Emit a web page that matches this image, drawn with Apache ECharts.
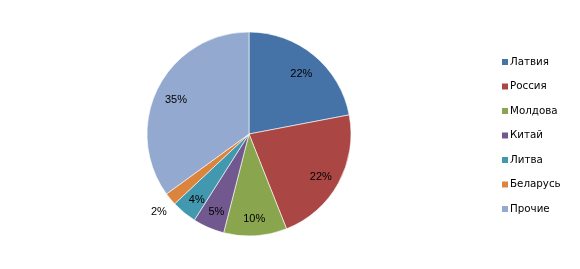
<!DOCTYPE html>
<html>
<head>
<meta charset="utf-8">
<script src="https://cdn.jsdelivr.net/npm/echarts@6/dist/echarts.min.js"></script>
<style>html,body{margin:0;padding:0;background:#fff}#c{width:580px;height:269px}</style>
</head>
<body>
<div id="c"></div>
<script>
const categories = ['Латвия', 'Россия', 'Молдова', 'Китай', 'Литва', 'Беларусь', 'Прочие'];
const values = [22, 22, 10, 5, 4, 2, 35];
const colors = ['#4572A7', '#AA4643', '#89A54E', '#71588F', '#4198AF', '#DB843D', '#93A9CF'];
const outsideLabels = ['Беларусь'];

const chart = echarts.init(document.getElementById('c'), null, {renderer: 'canvas'});
const font = 'DejaVu Sans';
const center = [249, 134];
const R = 102;

const baseData = categories.map((c, i) => ({name: c, value: values[i], itemStyle: {color: colors[i]}}));

const insideLabelData = categories.map((c, i) => ({
  name: c, value: values[i],
  label: {show: outsideLabels.indexOf(c) < 0}
}));
const outsideLabelData = categories.map((c, i) => ({
  name: c, value: values[i],
  label: {show: outsideLabels.indexOf(c) >= 0}
}));

const labelStyle = {
  position: 'inside',
  formatter: p => p.value + '%',
  color: '#000',
  fontFamily: 'Liberation Sans',
  fontSize: 11,
  offset: [0, 3]
};

chart.setOption({
  animation: false,
  legend: {
    orient: 'vertical',
    left: 502,
    top: 56,
    padding: 0,
    itemWidth: 6,
    itemHeight: 6,
    itemGap: 12.5,
    icon: 'rect',
    itemStyle: {borderWidth: 0},
    data: categories,
    textStyle: {fontFamily: font, fontSize: 10.3, color: '#000', lineHeight: 12, padding: [0, 0, 0, -3]}
  },
  series: [
    {
      type: 'pie',
      center: center,
      radius: [0, R],
      startAngle: 90,
      clockwise: true,
      label: {show: false},
      labelLine: {show: false},
      itemStyle: {borderColor: '#fff', borderWidth: 0.6},
      emphasis: {disabled: true},
      data: baseData
    },
    {
      type: 'pie',
      center: center,
      radius: [56, R],
      startAngle: 90,
      clockwise: true,
      silent: true,
      legendHoverLink: false,
      itemStyle: {color: 'transparent', borderWidth: 0},
      label: labelStyle,
      labelLine: {show: false},
      emphasis: {disabled: true},
      data: insideLabelData
    },
    {
      type: 'pie',
      center: center,
      radius: [0, 228],
      startAngle: 90,
      clockwise: true,
      silent: true,
      legendHoverLink: false,
      itemStyle: {color: 'transparent', borderWidth: 0},
      label: labelStyle,
      labelLine: {show: false},
      emphasis: {disabled: true},
      data: outsideLabelData
    }
  ]
});
</script>
</body>
</html>
